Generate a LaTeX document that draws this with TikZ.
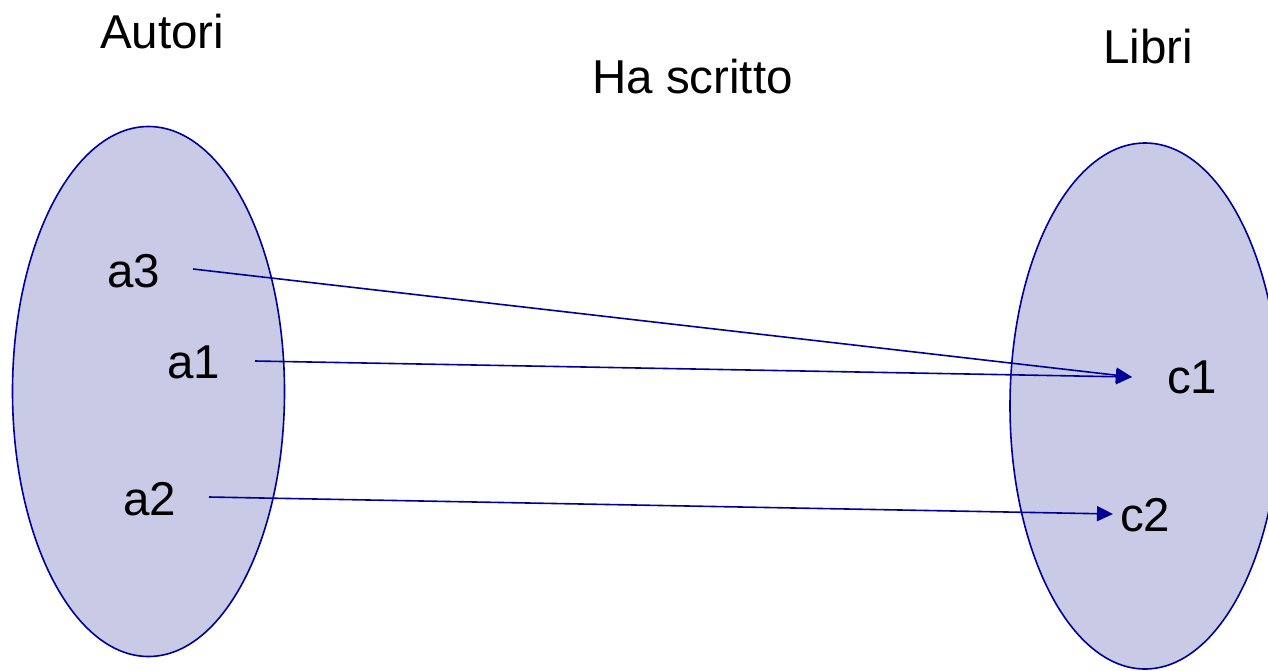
\documentclass[tikz,border=0pt]{standalone}
\usepackage{fontspec}
\setmainfont{Liberation Sans}
\usetikzlibrary{arrows.meta}
\definecolor{setfill}{RGB}{200,202,230}
\definecolor{setline}{RGB}{0,0,153}
\tikzset{
  setshape/.style={fill=setfill, draw=setline, line width=1.6pt},
  lbl/.style={anchor=base west, inner sep=0pt, font=\fontsize{47.5}{56}\selectfont},
  conn/.style={draw=setline, line width=1.6pt, -{Triangle[length=16pt,width=15pt]}}
}
\begin{document}
\begin{tikzpicture}[x=1pt,y=-1pt]
\useasboundingbox (0,0) rectangle (1268,670);
\begin{scope}
\clip (0,0) rectangle (1268,670);
\draw[setshape] (148.5,391.5) ellipse [x radius=136, y radius=265];
\draw[setshape] (1145,406) ellipse [x radius=135, y radius=263];
\end{scope}
\node[lbl] (autori) at (100,48) {Autori};
\node[lbl] (libri) at (1103,63) {Libri};
\node[lbl] (ha) at (592,93) {Ha scritto};
\node[lbl] (a3) at (107,287) {a3};
\node[lbl] (a1) at (167,378) {a1};
\node[lbl] (a2) at (123,515) {a2};
\node[lbl] (c1) at (1167,393) {c1};
\node[lbl] (c2) at (1120,531) {c2};
\coordinate (s3) at (193,269);
\coordinate (s1) at (255,361);
\coordinate (s2) at (209,497);
\coordinate (e1) at (1132,377);
\coordinate (e2) at (1113,514);
\draw[conn] (s3) -- (e1);
\draw[conn] (s1) -- (e1);
\draw[conn] (s2) -- (e2);
\end{tikzpicture}
\end{document}
